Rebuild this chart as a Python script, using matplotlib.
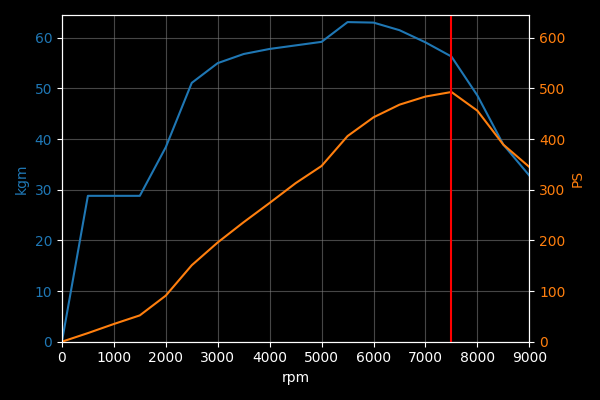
import numpy as np
import matplotlib.pyplot as plt

rpm = [0, 500, 1000, 1500, 2000, 2500, 3000, 3500, 4000, 4500,
       5000, 5500, 6000, 6500, 7000, 7500, 8000, 8500, 9000]
kgm = [0, 28.8, 28.8, 28.8, 38.4, 51.1, 55.0, 56.8, 57.8, 58.5,
       59.2, 63.1, 63.0, 61.5, 59.1, 56.3, 48.6, 38.9, 32.8]
ps = [0, 17, 35, 52, 91, 151, 196, 236, 274, 313,
      347, 406, 443, 468, 484, 493, 456, 389, 345]
redline = 7500

plt.style.use('dark_background')
fig, ax1 = plt.subplots(figsize=(6, 4), dpi=100)

ax1.plot(rpm, kgm, color='tab:blue')
ax1.set_xlabel('rpm')
ax1.set_ylabel('kgm', color='tab:blue')
ax1.tick_params(axis='y', labelcolor='tab:blue')
ax1.set_xlim(0, 9000)
ax1.set_ylim(0, 64.5)
ax1.grid(True, color='gray', alpha=0.55, linewidth=0.8)

ax2 = ax1.twinx()
ax2.plot(rpm, ps, color='tab:orange')
ax2.set_ylabel('PS', color='tab:orange')
ax2.tick_params(axis='y', labelcolor='tab:orange')
ax2.set_ylim(0, 645)

# red zone marker on top of both lines
ax2.axvline(redline, color='red')

fig.tight_layout()
fig.savefig('out.png')
